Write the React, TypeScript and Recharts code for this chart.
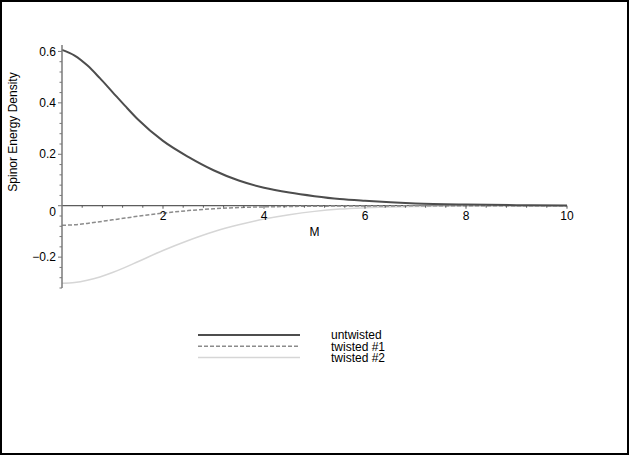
import React from 'react';
import { LineChart, Line, XAxis, YAxis, ReferenceLine, ReferenceDot } from 'recharts';

// values
const mValues = [0, 0.25, 0.5, 0.75, 1, 1.25, 1.5, 2, 2.5, 3, 3.5, 4, 4.5, 5, 5.5, 6, 7, 8, 9, 10];
const untwisted = [0.606, 0.584, 0.546, 0.496, 0.442, 0.388, 0.336, 0.252, 0.19, 0.138, 0.098, 0.07, 0.051, 0.037, 0.026, 0.019, 0.009, 0.0045, 0.002, 0.001];
const twisted1 = [-0.076, -0.074, -0.069, -0.062, -0.055, -0.048, -0.041, -0.029, -0.019, -0.012, -0.007, -0.0045, -0.003, -0.002, -0.0013, -0.001, -0.0005, -0.0002, 0, 0];
const twisted2 = [-0.302, -0.299, -0.29, -0.277, -0.26, -0.24, -0.218, -0.174, -0.135, -0.101, -0.074, -0.052, -0.035, -0.022, -0.013, -0.008, -0.003, -0.001, 0, 0];

const xMajor = [2, 4, 6, 8, 10];
const xMinor = [0.4, 0.8, 1.2, 1.6, 2.4, 2.8, 3.2, 3.6, 4.4, 4.8, 5.2, 5.6, 6.4, 6.8, 7.2, 7.6, 8.4, 8.8, 9.2, 9.6];
const yMajor = [-0.2, 0, 0.2, 0.4, 0.6];
const yMinor = [-0.32, -0.28, -0.24, -0.16, -0.12, -0.08, -0.04, 0.04, 0.08, 0.12, 0.16, 0.24, 0.28, 0.32, 0.36, 0.44, 0.48, 0.52, 0.56];

const series = [
  { key: 'untwisted', name: 'untwisted', color: '#4d4d4d', width: 2, dash: undefined as string | undefined },
  { key: 'twisted1', name: 'twisted #1', color: '#8c8c8c', width: 1.5, dash: '4 2' },
  { key: 'twisted2', name: 'twisted #2', color: '#d6d6d6', width: 1.5, dash: undefined as string | undefined },
];

const data = mValues.map((m, i) => ({ m, untwisted: untwisted[i], twisted1: twisted1[i], twisted2: twisted2[i] }));

const font = '"Liberation Sans", Arial, sans-serif';

const YTick = (props: any) => {
  const { x, y, payload } = props;
  const major = yMajor.includes(payload.value);
  const label = payload.value < 0 ? '\u2212' + Math.abs(payload.value) : String(payload.value);
  return (
    <g>
      <line x1={x - (major ? 4 : 2.5)} y1={y} x2={x} y2={y} stroke="#777" strokeWidth={1} />
      {major && (
        <text x={x - 6} y={payload.value === 0 ? y + 6 : y} dy="0.35em" textAnchor="end" fontSize={12} fill="#000" fontFamily={font}>
          {label}
        </text>
      )}
    </g>
  );
};

const xTickShape = (v: number, major: boolean) => (p: any) => (
  <g>
    <line x1={p.cx} y1={p.cy} x2={p.cx} y2={p.cy + (major ? 3 : 2)} stroke="#555" strokeWidth={1} />
    {major && (
      <text x={p.cx} y={p.cy + 10} dy="0.35em" textAnchor="middle" fontSize={12} fill="#000" fontFamily={font}>
        {v}
      </text>
    )}
  </g>
);

const App: React.FC = () => (
  <div style={{ position: 'fixed', left: 0, top: 0, width: 629, height: 455, background: '#fff' }}>
    <LineChart width={629} height={455} data={data} margin={{ top: 45, right: 62, left: 2, bottom: 167 }}>
      <XAxis dataKey="m" type="number" domain={[0, 10]} hide />
      <YAxis
        type="number"
        domain={[-0.32, 0.625]}
        ticks={[...yMajor, ...yMinor]}
        interval={0}
        width={60}
        tickSize={0}
        tickMargin={0}
        tickLine={false}
        tick={YTick}
        axisLine={{ stroke: '#7a7a7a', strokeWidth: 1.5 }}
      />
      <ReferenceLine y={0} stroke="#333" strokeWidth={1} />
      {xMinor.map((v) => (
        <ReferenceDot key={'n' + v} x={v} y={0} shape={xTickShape(v, false)} />
      ))}
      {xMajor.map((v) => (
        <ReferenceDot key={'j' + v} x={v} y={0} shape={xTickShape(v, true)} />
      ))}
      <ReferenceDot
        x={5}
        y={0}
        shape={(p: any) => (
          <text x={p.cx} y={p.cy + 26} dy="0.35em" textAnchor="middle" fontSize={12} fill="#000" fontFamily={font}>
            M
          </text>
        )}
      />
      {series.slice().reverse().map((s) => (
        <Line
          key={s.key}
          type="monotone"
          dataKey={s.key}
          name={s.name}
          stroke={s.color}
          strokeWidth={s.width}
          strokeDasharray={s.dash}
          dot={false}
          activeDot={false}
          isAnimationActive={false}
        />
      ))}
    </LineChart>
    <svg width={629} height={455} style={{ position: 'absolute', left: 0, top: 0, pointerEvents: 'none' }}>
      <text x={13} y={132} dy="0.35em" transform="rotate(-90 13 132)" textAnchor="middle" fontSize={12} fontFamily={font} fill="#000">
        Spinor Energy Density
      </text>
      {series.map((s, i) => (
        <g key={s.key}>
          <line x1={198} x2={300} y1={335 + i * 11.3} y2={335 + i * 11.3} stroke={s.color} strokeWidth={s.width} strokeDasharray={s.dash} />
          <text x={331} y={335 + i * 11.3} dy="0.35em" fontSize={12} fontFamily={font} fill="#000">
            {s.name}
          </text>
        </g>
      ))}
      <rect x={1} y={1} width={627} height={453} fill="none" stroke="#000" strokeWidth={2} />
    </svg>
  </div>
);

export default App;
